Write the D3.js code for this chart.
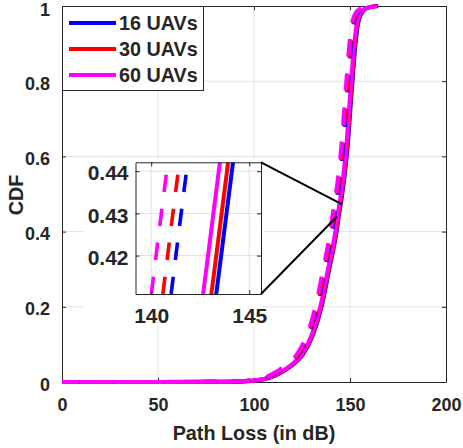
<!DOCTYPE html>
<html><head><meta charset="utf-8">
<script src="https://cdn.jsdelivr.net/npm/d3@7"></script>
<style>
body{margin:0;background:#fff}
svg text{font-family:"Liberation Sans",Arial,Helvetica,sans-serif;font-weight:bold;fill:#262626}
</style>
</head><body>
<svg id="chart" width="463" height="448"></svg>
<script>
// ---------------- data ----------------
const xTicks = [0, 50, 100, 150, 200];
const yTicks = [0, 0.2, 0.4, 0.6, 0.8, 1];
const yTickLabels = ["0", "0.2", "0.4", "0.6", "0.8", "1"];
const xLabel = "Path Loss (in dB)";
const yLabel = "CDF";

const insetXTicks = [140, 145];
const insetYTicks = [0.42, 0.43, 0.44];
const insetYTickLabels = ["0.42", "0.43", "0.44"];
const insetXDomain = [139.2, 145.6];
const insetYDomain = [0.4109, 0.4421];

const seriesNames = ["16 UAVs", "30 UAVs", "60 UAVs"];
const seriesColors = ["#0000ff", "#ff0000", "#ff00ff"];

// CDF levels shared by all curves
const cdfLevels = [0, 0, 0.0005, 0.002, 0.004, 0.008, 0.016, 0.03, 0.048, 0.075, 0.125, 0.2, 0.3, 0.4, 0.442, 0.49, 0.6, 0.8, 0.9, 0.95, 0.975, 0.99, 0.997, 1];
// path loss (dB) at each CDF level
const pl16Solid  = [0, 50, 80.7, 95.7, 100.7, 105.7, 110.7, 115.7, 120.7, 125.7, 130.7, 135.2, 139.2, 143.02, 144.17, 145.7, 148.3, 151.3, 152.9, 154.1, 155.5, 157.5, 160.7, 164.7];
const pl30Solid  = [0, 50, 80.4, 95.4, 100.4, 105.4, 110.4, 115.4, 120.4, 125.4, 130.4, 134.9, 138.9, 142.77, 143.92, 145.4, 148.0, 151.0, 152.6, 153.8, 155.2, 157.2, 160.4, 164.4];
const pl60Solid  = [0, 50, 80.0, 95.0, 100.0, 105.0, 110.0, 115.0, 120.0, 125.0, 130.0, 134.5, 138.5, 142.35, 143.5, 145.0, 147.6, 150.6, 152.2, 153.4, 154.8, 156.8, 160.0, 164.0];
const pl16Dashed = [0, 50, 78.5, 93.5, 98.5, 103.5, 108.5, 113.5, 118.5, 123.5, 128.5, 133.0, 137.0, 140.71, 141.86, 143.35, 146.0, 149.1, 150.7, 151.9, 153.3, 155.5, 158.8, 162.5];
const pl30Dashed = [0, 50, 78.1, 93.1, 98.1, 103.1, 108.1, 113.1, 118.1, 123.1, 128.1, 132.6, 136.6, 140.29, 141.44, 142.95, 145.6, 148.7, 150.3, 151.5, 152.9, 155.1, 158.4, 162.1];
const pl60Dashed = [0, 50, 77.5, 92.5, 97.5, 102.5, 107.5, 112.5, 117.5, 122.5, 127.5, 132.0, 136.0, 139.7, 140.85, 142.35, 145.0, 148.1, 149.7, 150.9, 152.3, 154.5, 157.8, 161.5];

// zoom connector targets on the main axes (dB, CDF)
const zoomTargetX = [145.7, 143.2];
const zoomTargetY = [0.473, 0.44];

// ---------------- layout ----------------
const svg = d3.select("#chart");
const M = {l: 62, t: 6, r: 446, b: 382};
const I = {l: 135.5, t: 162.3, r: 261, b: 294};
const INK = "#262626", GRID = "#e0e0e0";
const dashArr = "17.5,16.7";
const dashPhaseCdf = 0.503;

const x = d3.scaleLinear([0, 200], [M.l, M.r]);
const y = d3.scaleLinear([0, 1], [M.b, M.t]);
const xi = d3.scaleLinear(insetXDomain, [I.l, I.r]);
const yi = d3.scaleLinear(insetYDomain, [I.b, I.t]);

const solids = [pl16Solid, pl30Solid, pl60Solid];
const dasheds = [pl16Dashed, pl30Dashed, pl60Dashed];
const toPts = arr => arr.map((v, i) => [v, cdfLevels[i]]);

function lengthAtPy(node, py) {
  let lo = 0, hi = node.getTotalLength();
  for (let k = 0; k < 50; k++) {
    const mid = (lo + hi) / 2;
    if (node.getPointAtLength(mid).y > py) lo = mid; else hi = mid;
  }
  return lo;
}

// ---------------- main axes ----------------
const gGrid = svg.append("g");
xTicks.slice(1, -1).forEach(t => gGrid.append("line").attr("x1", x(t)).attr("x2", x(t)).attr("y1", M.t).attr("y2", M.b).attr("stroke", GRID));
yTicks.slice(1, -1).forEach(t => gGrid.append("line").attr("x1", M.l).attr("x2", M.r).attr("y1", y(t)).attr("y2", y(t)).attr("stroke", GRID));

const axB = svg.append("g").attr("transform", `translate(0,${M.b})`)
  .call(d3.axisBottom(x).tickValues(xTicks).tickSizeInner(-4).tickSizeOuter(0).tickPadding(16).tickFormat(d3.format("d")));
const axT = svg.append("g").attr("transform", `translate(0,${M.t})`)
  .call(d3.axisTop(x).tickValues(xTicks).tickSizeInner(-4).tickSizeOuter(0).tickFormat(""));
const axL = svg.append("g").attr("transform", `translate(${M.l},0)`)
  .call(d3.axisLeft(y).tickValues(yTicks).tickSizeInner(-4).tickSizeOuter(0).tickPadding(12).tickFormat((d, i) => yTickLabels[i]));
const axR = svg.append("g").attr("transform", `translate(${M.r},0)`)
  .call(d3.axisRight(y).tickValues(yTicks).tickSizeInner(-4).tickSizeOuter(0).tickFormat(""));
[axB, axT, axL, axR].forEach(a => {
  a.select(".domain").attr("stroke", INK);
  a.selectAll(".tick line").attr("stroke", INK);
  a.selectAll("text").attr("fill", INK).style("font-size", "18px").style("font-weight", "bold").attr("font-family", null);
});
axB.selectAll("text").attr("dy", "0.71em");
axL.selectAll("text").attr("dy", (d, i) => i === yTicks.length - 1 ? "0.55em" : "0.45em");

svg.append("text").attr("x", (M.l + M.r) / 2).attr("y", 440).attr("text-anchor", "middle").style("font-size", "19.8px").text(xLabel);
svg.append("text").attr("transform", `translate(23,195) rotate(-90)`).attr("text-anchor", "middle").style("font-size", "19.8px").text(yLabel);

// ---------------- main curves ----------------
const lineMain = d3.line().x(d => x(d[0])).y(d => y(d[1])).curve(d3.curveMonotoneX);
const gMain = svg.append("g");
solids.forEach((s, i) => {
  gMain.append("path").attr("d", lineMain(toPts(s))).attr("fill", "none")
    .attr("stroke", seriesColors[i]).attr("stroke-width", 4).attr("stroke-linejoin", "round");
});
const mainDashed = dasheds.map((s, i) => gMain.append("path").attr("d", lineMain(toPts(s))).attr("fill", "none")
    .attr("stroke", seriesColors[i]).attr("stroke-width", 4).attr("stroke-dasharray", dashArr));
const mainOffset = -lengthAtPy(mainDashed[2].node(), y(dashPhaseCdf));
mainDashed.forEach(p => p.attr("stroke-dashoffset", mainOffset));

// ---------------- inset ----------------
svg.append("rect").attr("x", 83).attr("y", 159).attr("width", 180).attr("height", 167).attr("fill", "#fff");
svg.append("defs").append("clipPath").attr("id", "insetClip")
  .append("rect").attr("x", I.l).attr("y", I.t).attr("width", I.r - I.l).attr("height", I.b - I.t);
const gIn = svg.append("g");
insetXTicks.forEach(t => gIn.append("line").attr("x1", xi(t)).attr("x2", xi(t)).attr("y1", I.t).attr("y2", I.b).attr("stroke", GRID));
insetYTicks.forEach(t => gIn.append("line").attr("x1", I.l).attr("x2", I.r).attr("y1", yi(t)).attr("y2", yi(t)).attr("stroke", GRID));

const lineIn = d3.line().x(d => xi(d[0])).y(d => yi(d[1])).curve(d3.curveMonotoneX);
const gInLines = gIn.append("g").attr("clip-path", "url(#insetClip)");
dasheds.forEach((s, i) => {
  const p = gInLines.append("path").attr("d", lineIn(toPts(s))).attr("fill", "none")
    .attr("stroke", seriesColors[i]).attr("stroke-width", 3.6).attr("stroke-dasharray", dashArr);
  const L = lengthAtPy(p.node(), I.b);
  p.attr("stroke-dashoffset", -L);
});
solids.forEach((s, i) => {
  gInLines.append("path").attr("d", lineIn(toPts(s))).attr("fill", "none")
    .attr("stroke", seriesColors[i]).attr("stroke-width", 4);
});

const iaB = gIn.append("g").attr("transform", `translate(0,${I.b})`)
  .call(d3.axisBottom(xi).tickValues(insetXTicks).tickSizeInner(-4).tickSizeOuter(0).tickPadding(14).tickFormat(d3.format("d")));
const iaT = gIn.append("g").attr("transform", `translate(0,${I.t})`)
  .call(d3.axisTop(xi).tickValues(insetXTicks).tickSizeInner(-4).tickSizeOuter(0).tickFormat(""));
const iaL = gIn.append("g").attr("transform", `translate(${I.l},0)`)
  .call(d3.axisLeft(yi).tickValues(insetYTicks).tickSizeInner(-4).tickSizeOuter(0).tickPadding(7).tickFormat((d, i) => insetYTickLabels[i]));
const iaR = gIn.append("g").attr("transform", `translate(${I.r},0)`)
  .call(d3.axisRight(yi).tickValues(insetYTicks).tickSizeInner(-4).tickSizeOuter(0).tickFormat(""));
[iaB, iaT, iaL, iaR].forEach(a => {
  a.select(".domain").attr("stroke", INK);
  a.selectAll(".tick line").attr("stroke", INK);
  a.selectAll("text").attr("fill", INK).style("font-size", "21px").style("font-weight", "bold").attr("font-family", null);
});
iaB.selectAll("text").attr("dy", "0.71em");
iaL.selectAll("text").attr("dy", "0.42em");

// connectors
const corners = [[I.r, I.t], [I.r, I.b]];
corners.forEach((c, k) => {
  svg.append("line").attr("x1", c[0]).attr("y1", c[1])
    .attr("x2", x(zoomTargetX[k])).attr("y2", y(zoomTargetY[k]))
    .attr("stroke", "#000").attr("stroke-width", 2);
});

// ---------------- legend ----------------
const gLeg = svg.append("g");
gLeg.append("rect").attr("x", 62.5).attr("y", 6.5).attr("width", 141).attr("height", 84)
  .attr("fill", "#fff").attr("stroke", INK).attr("stroke-width", 1);
seriesNames.forEach((n, i) => {
  const cy = 23 + i * 26;
  gLeg.append("line").attr("x1", 69).attr("x2", 116).attr("y1", cy).attr("y2", cy)
    .attr("stroke", seriesColors[i]).attr("stroke-width", 4);
  gLeg.append("text").attr("x", 119).attr("y", cy + 7).style("font-size", "19.8px").text(n);
});
</script>
</body></html>
